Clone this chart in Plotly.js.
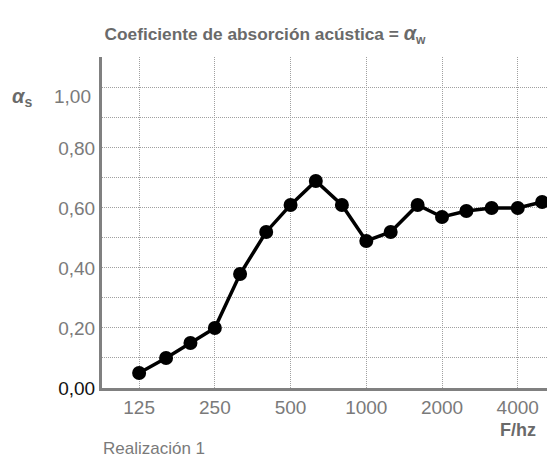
<!DOCTYPE html>
<html>
<head>
<meta charset="utf-8">
<script src="https://cdn.plot.ly/plotly-3.0.1.min.js"></script>
<style>html,body{margin:0;padding:0;background:#fff;}#chart{width:547px;height:459px;}</style>
</head>
<body>
<div id="chart"></div>
<script>
// Third-octave band centre frequencies (Hz)
const frequencies = [125, 160, 200, 250, 315, 400, 500, 630, 800, 1000, 1250, 1600, 2000, 2500, 3150, 4000, 5000];
// Sound absorption coefficient alpha_s per band
const alphaS = [0.05, 0.10, 0.15, 0.20, 0.38, 0.52, 0.61, 0.69, 0.61, 0.49, 0.52, 0.61, 0.57, 0.59, 0.60, 0.60, 0.62];
// Axis ticks
const xTickVals = [125, 250, 500, 1000, 2000, 4000];
const xTickText = ['125', '250', '500', '1000', '2000', '4000'];
const yTickVals = [0, 0.2, 0.4, 0.6, 0.8];
const yTickText = ['<span style="color:#111">0,00</span>', '0,20', '0,40', '0,60', '0,80'];
const yMinorGridVals = [0.1, 0.3, 0.5, 0.7, 0.9, 1.0, 1.1];

const FONT = '"Liberation Sans", Arial, sans-serif';
const GRAY = '#7a7a7a';

const trace = {
  x: frequencies,
  y: alphaS,
  type: 'scatter',
  mode: 'lines+markers',
  line: {color: '#000', width: 3.5},
  marker: {color: '#000', size: 14},
  cliponaxis: false,
  hoverinfo: 'skip'
};

const GRID = {gridcolor: '#a0a0a0', griddash: '1px,1px', gridwidth: 1};

const layout = {
  width: 547,
  height: 459,
  margin: {l: 102, r: 0, t: 57, b: 71},
  paper_bgcolor: '#fff',
  plot_bgcolor: '#fff',
  showlegend: false,
  font: {family: FONT, color: GRAY, size: 19},
  title: {
    text: '<b>Coeficiente de absorción acústica = <span style="font-size:20px"><i>α</i></span><sub>w</sub></b>',
    font: {family: FONT, size: 17.3, color: '#6a6a6a'},
    xref: 'container', yref: 'container',
    x: 265/547, xanchor: 'center',
    y: 1 - 34/459, yanchor: 'middle'
  },
  xaxis: Object.assign({
    type: 'log',
    range: [Math.log10(89.0), Math.log10(5228)],
    tickvals: xTickVals,
    ticktext: xTickText,
    showgrid: true,
    showline: true,
    linecolor: '#808080',
    linewidth: 3,
    zeroline: false,
    ticks: '',
    tickfont: {family: FONT, size: 19, color: GRAY},
    fixedrange: true
  }, GRID),
  yaxis: Object.assign({
    range: [0, 1.103],
    tickvals: yTickVals,
    ticktext: yTickText,
    showgrid: true,
    minor: Object.assign({tickvals: yMinorGridVals, showgrid: true, ticks: ''}, GRID),
    showline: true,
    linecolor: '#808080',
    linewidth: 3,
    zeroline: false,
    ticks: '',
    tickfont: {family: FONT, size: 19, color: GRAY},
    fixedrange: true
  }, GRID),
  annotations: [
    {text: '1,00', xref: 'paper', yref: 'y', x: (93 - 102)/445, y: 1.0, yshift: -9,
     xanchor: 'right', yanchor: 'middle', showarrow: false,
     font: {family: FONT, size: 19, color: GRAY}},
    {text: '<b><i>α</i><sub>s</sub></b>', xref: 'paper', yref: 'paper', x: (10 - 102)/445, y: (388 - 97)/331,
     xanchor: 'left', yanchor: 'middle', showarrow: false,
     font: {family: FONT, size: 20, color: '#6a6a6a'}},
    {text: '<b>F/hz</b>', xref: 'paper', yref: 'paper', x: (538 - 102)/445, y: (388 - 430)/331,
     xanchor: 'right', yanchor: 'middle', showarrow: false,
     font: {family: FONT, size: 18, color: '#6a6a6a'}},
    {text: 'Realización 1', xref: 'paper', yref: 'paper', x: (101 - 102)/445, y: (388 - 449)/331,
     xanchor: 'left', yanchor: 'middle', showarrow: false,
     font: {family: FONT, size: 17, color: GRAY}}
  ]
};

Plotly.newPlot('chart', [trace], layout, {displayModeBar: false, staticPlot: true});
</script>
</body>
</html>
